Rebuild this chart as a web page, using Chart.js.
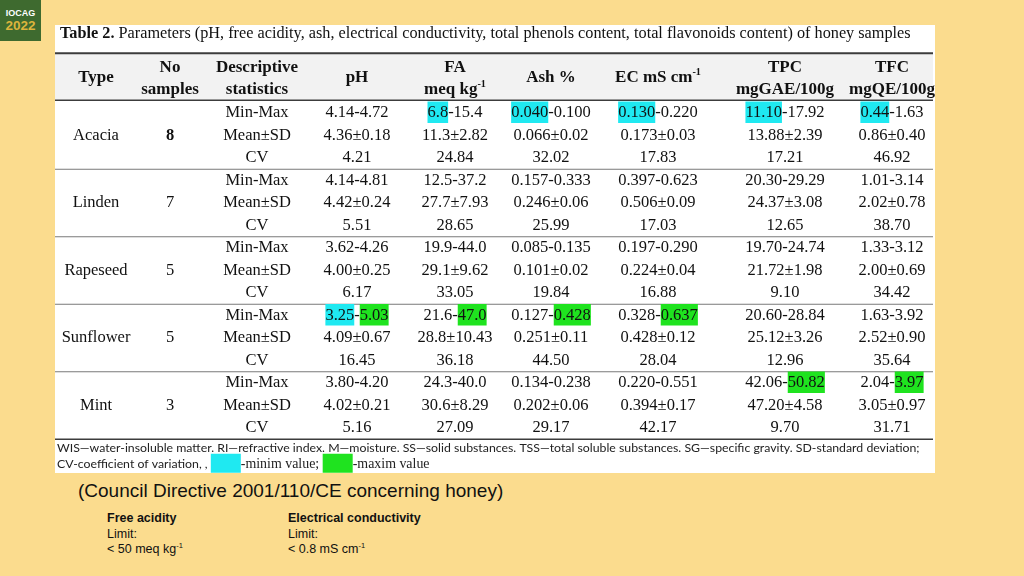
<!DOCTYPE html>
<html lang="en">
<head>
  <meta charset="UTF-8">
  <title>Honey samples - Table 2</title>
  <script src="https://cdn.jsdelivr.net/npm/chart.js"></script>
  <style>
    body {
      margin: 0;
      width: 1024px;
      height: 576px;
      background: #fbdc8e;
      font-family: "Liberation Sans", Arial, sans-serif;
      position: relative;
      overflow: hidden;
      color: #111;
    }
    #logo { position: absolute; left: 0; top: 0; width: 41px; height: 41px; background: #3e6a2f; }
    #logo div { position: absolute; left: 0; width: 41px; text-align: center; font-weight: bold; }
    #logo .l1 { top: 8px; color: #fff; font-size: 9px; line-height: 10px; }
    #logo .l2 { top: 19px; color: #dcb43c; font-size: 13.5px; line-height: 14px; }
    #panel { position: absolute; left: 55px; top: 25px; width: 880px; height: 448px; background: #fff; }
    #directive { position: absolute; left: 78px; top: 480px; font-size: 19px; line-height: 22px; }
    .limit { position: absolute; top: 511px; font-size: 12.5px; line-height: 15.5px; }
    sup { font-size: 7.5px; line-height: 0; }
  </style>
</head>
<body>
  <div id="logo"><div class="l1">IOCAG</div><div class="l2">2022</div></div>
  <div id="panel"><canvas id="table" width="880" height="448"></canvas></div>
  <div id="directive">(Council Directive 2001/110/CE concerning honey)</div>
  <div class="limit" style="left:107px"><b>Free acidity</b><br>Limit:<br>&lt; 50 meq kg<sup>-1</sup></div>
  <div class="limit" style="left:288px"><b>Electrical conductivity</b><br>Limit:<br>&lt; 0.8 mS cm<sup>-1</sup></div>

  <script>
    // table data
    const types = ['Acacia', 'Linden', 'Rapeseed', 'Sunflower', 'Mint'];
    const samples = ['8', '7', '5', '5', '3'];
    const statistics = ['Min-Max', 'Mean±SD', 'CV'];
    const params = ['pH', 'FA', 'Ash', 'EC', 'TPC', 'TFC'];

    const phValues = ['4.14-4.72', '4.36±0.18', '4.21', '4.14-4.81', '4.42±0.24', '5.51', '3.62-4.26', '4.00±0.25', '6.17',
                      '3.25-5.03', '4.09±0.67', '16.45', '3.80-4.20', '4.02±0.21', '5.16'];
    const faValues = ['6.8-15.4', '11.3±2.82', '24.84', '12.5-37.2', '27.7±7.93', '28.65', '19.9-44.0', '29.1±9.62', '33.05',
                      '21.6-47.0', '28.8±10.43', '36.18', '24.3-40.0', '30.6±8.29', '27.09'];
    const ashValues = ['0.040-0.100', '0.066±0.02', '32.02', '0.157-0.333', '0.246±0.06', '25.99', '0.085-0.135', '0.101±0.02', '19.84',
                       '0.127-0.428', '0.251±0.11', '44.50', '0.134-0.238', '0.202±0.06', '29.17'];
    const ecValues = ['0.130-0.220', '0.173±0.03', '17.83', '0.397-0.623', '0.506±0.09', '17.03', '0.197-0.290', '0.224±0.04', '16.88',
                      '0.328-0.637', '0.428±0.12', '28.04', '0.220-0.551', '0.394±0.17', '42.17'];
    const tpcValues = ['11.10-17.92', '13.88±2.39', '17.21', '20.30-29.29', '24.37±3.08', '12.65', '19.70-24.74', '21.72±1.98', '9.10',
                       '20.60-28.84', '25.12±3.26', '12.96', '42.06-50.82', '47.20±4.58', '9.70'];
    const tfcValues = ['0.44-1.63', '0.86±0.40', '46.92', '1.01-3.14', '2.02±0.78', '38.70', '1.33-3.12', '2.00±0.69', '34.42',
                       '1.63-3.92', '2.52±0.90', '35.64', '2.04-3.97', '3.05±0.97', '31.71'];

    // honey type holding the lowest / highest value of each parameter
    const minHighlight = ['Sunflower', 'Acacia', 'Acacia', 'Acacia', 'Acacia', 'Acacia'];
    const maxHighlight = ['Sunflower', 'Sunflower', 'Sunflower', 'Sunflower', 'Mint', 'Mint'];

    const headers = [['Type'], ['No', 'samples'], ['Descriptive', 'statistics'], ['pH'], ['FA', 'meq kg^-1'],
                     ['Ash %'], ['EC mS cm^-1'], ['TPC', 'mgGAE/100g'], ['TFC', 'mgQE/100g']];

    const caption = ['Table 2.', ' Parameters (pH, free acidity, ash, electrical conductivity, total phenols content, total flavonoids content) of honey samples'];
    const footnote1 = 'WIS\u2014water-insoluble matter. RI\u2014refractive index. M\u2014moisture. SS\u2014solid substances. TSS\u2014total soluble substances. SG\u2014specific gravity. SD-standard deviation;';
    const footnote2 = ['CV-coefficient of variation, , ', '-minim value; ', '-maxim value'];

    const paramValues = [phValues, faValues, ashValues, ecValues, tpcValues, tfcValues];
    const rowLabels = types.flatMap(t => statistics.map(s => t + ' ' + s));

    // layout
    const COL_WIDTHS = [82, 66, 108, 92, 104, 88, 126, 128, 86];
    const SERIF = '"Liberation Serif", "DejaVu Serif", serif';
    const SANS = 'Lato, "Open Sans", sans-serif';
    const CYAN = '#1fe9f1';
    const GREEN = '#1fe31f';

    let acc = 0;
    const colCenters = COL_WIDTHS.map(w => { const c = acc + w / 2; acc += w; return c; });
    const totalWidth = acc;

    function toParts(str) {
      const i = str.indexOf('^');
      if (i < 0) return [{ text: str }];
      return [{ text: str.slice(0, i) }, { text: str.slice(i + 1), sup: true }];
    }

    function drawParts(ctx, parts, cx, cy, size, weight) {
      const fontOf = p => `${weight} ${p.sup ? size * 0.6 : size}px ${SERIF}`;
      let total = 0;
      parts.forEach(p => { ctx.font = fontOf(p); p.w = ctx.measureText(p.text).width; total += p.w; });
      let px = cx - total / 2;
      parts.forEach(p => {
        if (p.hl) {
          ctx.fillStyle = p.hl;
          ctx.fillRect(px, cy - 11.5, p.w, 21.5);
        }
        ctx.font = fontOf(p);
        ctx.fillStyle = '#111';
        ctx.fillText(p.text, px, p.sup ? cy - size * 0.3 : cy);
        px += p.w;
      });
    }

    function fitSize(ctx, segs, target) {
      let w = 0;
      segs.forEach(s => { ctx.font = `${s.weight || 'normal'} 20px ${s.family}`; w += ctx.measureText(s.text).width; });
      return 20 * target / w;
    }

    function hline(ctx, x0, x1, yy, width, color) {
      ctx.strokeStyle = color;
      ctx.lineWidth = width;
      ctx.beginPath();
      ctx.moveTo(x0, yy);
      ctx.lineTo(x1, yy);
      ctx.stroke();
    }

    const tablePlugin = {
      id: 'honeyTable',
      afterDraw(chart) {
        const { ctx, chartArea: area, scales: { x, y } } = chart;
        const colX = colCenters.map(c => x.getPixelForValue(c));
        const rowY = i => y.getPixelForValue(i);
        const right = area.right - 2;
        ctx.save();
        ctx.textBaseline = 'alphabetic';

        // caption
        const capSize = fitSize(ctx, [{ text: caption[0], weight: 'bold', family: SERIF }, { text: caption[1], family: SERIF }], 851);
        ctx.fillStyle = '#111';
        ctx.font = `bold ${capSize}px ${SERIF}`;
        ctx.fillText(caption[0], 5, 13);
        const capW = ctx.measureText(caption[0]).width;
        ctx.font = `normal ${capSize}px ${SERIF}`;
        ctx.fillText(caption[1], 5 + capW, 13);

        // header band and rules
        const headTop = area.top - 48.5;
        ctx.fillStyle = '#f2f2f2';
        ctx.fillRect(area.left, headTop, right - area.left, 47);
        hline(ctx, area.left, right, headTop, 2, '#3c3c3c');
        hline(ctx, area.left, right, area.top - 1.5, 1.5, '#3c3c3c');

        ctx.textBaseline = 'middle';
        headers.forEach((lines, c) => {
          const ys = lines.length === 1 ? [area.top - 24] : [area.top - 34, area.top - 12.5];
          lines.forEach((ln, k) => drawParts(ctx, toParts(ln), colX[c], ys[k], 17, 'bold'));
        });

        // body
        rowLabels.forEach((label, r) => {
          const g = Math.floor(r / 3);
          const s = r % 3;
          const cy = rowY(r);
          if (s === 1) {
            drawParts(ctx, [{ text: types[g] }], colX[0], cy, 16.5, 'normal');
            drawParts(ctx, [{ text: samples[g] }], colX[1], cy, 16.5, g === 0 ? 'bold' : 'normal');
          }
          drawParts(ctx, [{ text: statistics[s] }], colX[2], cy, 16.5, 'normal');
          paramValues.forEach((vals, p) => {
            const v = vals[r];
            let parts;
            if (s === 0) {
              const i = v.indexOf('-');
              parts = [
                { text: v.slice(0, i), hl: minHighlight[p] === types[g] ? CYAN : null },
                { text: '-' },
                { text: v.slice(i + 1), hl: maxHighlight[p] === types[g] ? GREEN : null }
              ];
            } else {
              parts = [{ text: v }];
            }
            drawParts(ctx, parts, colX[3 + p], cy, 16.5, 'normal');
          });
          if (s === 2 && g < types.length - 1) {
            hline(ctx, area.left, right, (cy + rowY(r + 1)) / 2, 1, '#7a7a7a');
          }
        });
        hline(ctx, area.left, right, area.bottom, 1.5, '#3c3c3c');

        // footnotes
        const fnSize = fitSize(ctx, [{ text: footnote1, family: SANS }], 863);
        ctx.fillStyle = '#222';
        ctx.font = `normal ${fnSize}px ${SANS}`;
        ctx.fillText(footnote1, 2, area.bottom + 9);
        const y2 = area.bottom + 25;
        ctx.fillText(footnote2[0], 2, y2);
        let fx = 2 + ctx.measureText(footnote2[0]).width;
        const serifSize = fitSize(ctx, [{ text: footnote2[1], family: SERIF }], 82);
        [[CYAN, footnote2[1]], [GREEN, footnote2[2]]].forEach(([col, txt]) => {
          ctx.fillStyle = col;
          ctx.fillRect(fx, y2 - 10.5, 30, 19);
          fx += 30;
          ctx.fillStyle = '#222';
          ctx.font = `normal ${serifSize}px ${SERIF}`;
          ctx.fillText(txt, fx, y2);
          fx += ctx.measureText(txt).width;
        });
        ctx.restore();
      }
    };

    new Chart(document.getElementById('table'), {
      type: 'scatter',
      data: { labels: rowLabels, datasets: [] },
      options: {
        responsive: false,
        animation: false,
        events: [],
        layout: { padding: { top: 76.75, bottom: 33.75, left: 0, right: 0 } },
        plugins: { legend: { display: false }, tooltip: { enabled: false } },
        scales: {
          x: { type: 'linear', min: 0, max: totalWidth, display: false },
          y: { type: 'category', labels: rowLabels, offset: true, display: false }
        }
      },
      plugins: [tablePlugin]
    });
  </script>
</body>
</html>
